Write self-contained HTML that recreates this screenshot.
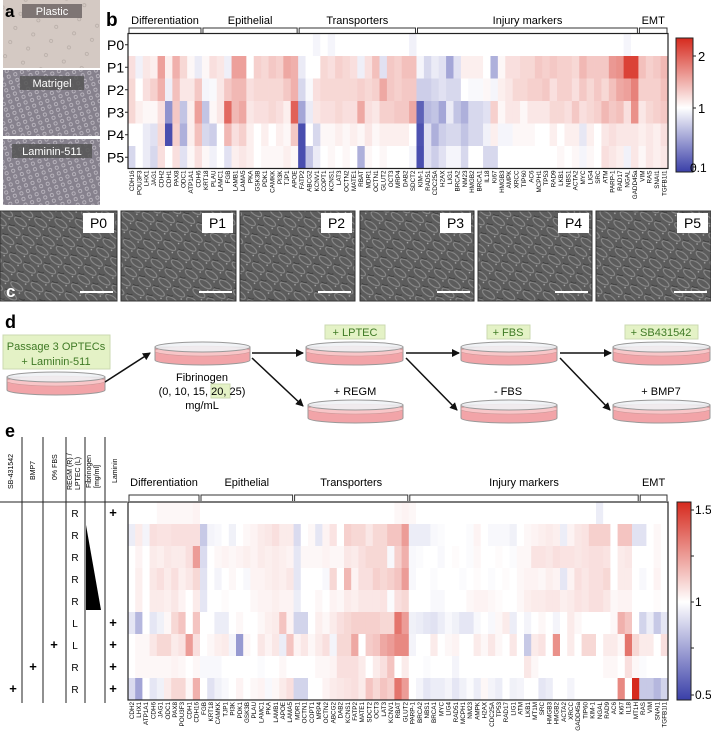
<!DOCTYPE html>
<html><head><meta charset="utf-8">
<style>
html,body{margin:0;padding:0;background:#fff;}
body{width:711px;height:741px;overflow:hidden;position:relative;font-family:"Liberation Sans",Arial,sans-serif;}
svg text{font-family:"Liberation Sans",Arial,sans-serif;}
</style></head>
<body>
<svg id="fig" width="711" height="741" viewBox="0 0 711 741" xmlns="http://www.w3.org/2000/svg">
<defs>
  <pattern id="cells" width="17" height="11" patternUnits="userSpaceOnUse" patternTransform="rotate(35)">
    <rect width="17" height="11" fill="#5c5c5c"/>
    <ellipse cx="8" cy="5" rx="7" ry="3" fill="none" stroke="#8c8c8c" stroke-width="1"/>
    <ellipse cx="0" cy="0" rx="5" ry="2.5" fill="none" stroke="#3e3e3e" stroke-width="1"/>
    <circle cx="14" cy="9" r="0.8" fill="#b0b0b0"/>
  </pattern>
  <pattern id="cells2" width="7" height="6" patternUnits="userSpaceOnUse" patternTransform="rotate(-20)">
    <rect width="7" height="6" fill="#86818d"/>
    <circle cx="3" cy="3" r="1.6" fill="none" stroke="#c4c0c8" stroke-width="0.7"/>
  </pattern>
  <pattern id="plastic" width="19" height="15" patternUnits="userSpaceOnUse" patternTransform="rotate(20)">
    <rect width="19" height="15" fill="#d4c9c3"/>
    <circle cx="5" cy="6" r="1.6" fill="none" stroke="#b0a6a0" stroke-width="0.6"/>
  </pattern>
  <linearGradient id="cbB" x1="0" y1="0" x2="0" y2="1">
    <stop offset="0" stop-color="#d62a1e"/>
    <stop offset="0.52" stop-color="#ffffff"/>
    <stop offset="1" stop-color="#3a3fa8"/>
  </linearGradient>
  <linearGradient id="cbE" x1="0" y1="0" x2="0" y2="1">
    <stop offset="0" stop-color="#d62a1e"/>
    <stop offset="0.505" stop-color="#ffffff"/>
    <stop offset="1" stop-color="#3a3fa8"/>
  </linearGradient>
  <marker id="arr" markerWidth="8" markerHeight="8" refX="7" refY="4" orient="auto" markerUnits="userSpaceOnUse">
    <path d="M0,0 L8,4 L0,8 z" fill="#111"/>
  </marker>
</defs>

<g>
  <rect x="3" y="0" width="97" height="68" fill="url(#plastic)"/>
  <rect x="3" y="70" width="97" height="66" fill="url(#cells2)"/>
  <rect x="3" y="139" width="97" height="66" fill="url(#cells2)"/>
  <rect x="22" y="4" width="60" height="14" fill="#6e6666" opacity="0.85"/>
  <text x="52" y="15" font-size="11" fill="#fff" text-anchor="middle">Plastic</text>
  <rect x="20" y="76" width="64" height="14" fill="#555" opacity="0.85"/>
  <text x="52" y="87" font-size="11" fill="#fff" text-anchor="middle">Matrigel</text>
  <rect x="12" y="144" width="80" height="14" fill="#555" opacity="0.85"/>
  <text x="52" y="155" font-size="11" fill="#fff" text-anchor="middle">Laminin-511</text>
  <text x="5" y="17" font-size="17" font-weight="bold" fill="#000">a</text>
</g>

<g>
  <text x="106" y="26" font-size="19" font-weight="bold">b</text>
  <g id="bBrackets"></g>
  <g id="bHeat"></g>
  <rect x="128" y="33.5" width="540" height="135" fill="none" stroke="#222" stroke-width="1.2"/>
  <g id="bRows"></g>
  <g id="bGenes"></g>
  <rect x="676" y="38" width="17" height="134" fill="url(#cbB)" stroke="#222" stroke-width="1"/>
  <g font-size="13">
    <line x1="693" y1="56" x2="696" y2="56" stroke="#222"/><text x="698" y="61">2</text>
    <line x1="693" y1="108" x2="696" y2="108" stroke="#222"/><text x="698" y="113">1</text>
    <line x1="693" y1="167" x2="696" y2="167" stroke="#222"/><text x="690" y="172" font-size="12">0.1</text>
  </g>
</g>

<g id="panelC"></g>

<g>
  <text x="5" y="328" font-size="18" font-weight="bold">d</text>
  <rect x="3" y="335" width="107" height="34" fill="#e4f2c6" stroke="#cbd9b0"/>
  <text x="56" y="350" font-size="11" fill="#3f7a25" text-anchor="middle">Passage 3 OPTECs</text>
  <text x="56" y="365" font-size="11" fill="#3f7a25" text-anchor="middle">+ Laminin-511</text>
  <g id="dishes"></g>
  <text x="202" y="381" font-size="11" text-anchor="middle">Fibrinogen</text>
  <rect x="211" y="384" width="19" height="14" fill="#e4f2c6" stroke="#cbd9b0"/>
  <text x="202" y="395" font-size="11" text-anchor="middle">(0, 10, 15, 20, 25)</text>
  <text x="202" y="409" font-size="11" text-anchor="middle">mg/mL</text>
  <g stroke="#111" stroke-width="1.5" marker-end="url(#arr)">
    <line x1="105" y1="382" x2="150" y2="353"/>
    <line x1="252" y1="353" x2="303" y2="353"/>
    <line x1="252" y1="358" x2="303" y2="406"/>
    <line x1="406" y1="353" x2="459" y2="353"/>
    <line x1="406" y1="358" x2="457" y2="410"/>
    <line x1="560" y1="353" x2="611" y2="353"/>
    <line x1="560" y1="358" x2="610" y2="410"/>
  </g>
  <rect x="325" y="325" width="60" height="14" fill="#e4f2c6" stroke="#cbd9b0"/>
  <text x="355" y="336" font-size="11" fill="#3f7a25" text-anchor="middle">+ LPTEC</text>
  <rect x="487" y="325" width="43" height="14" fill="#e4f2c6" stroke="#cbd9b0"/>
  <text x="508" y="336" font-size="11" fill="#3f7a25" text-anchor="middle">+ FBS</text>
  <rect x="625" y="325" width="73" height="14" fill="#e4f2c6" stroke="#cbd9b0"/>
  <text x="661" y="336" font-size="11" fill="#3f7a25" text-anchor="middle">+ SB431542</text>
  <text x="355" y="395" font-size="11" text-anchor="middle">+ REGM</text>
  <text x="508" y="395" font-size="11" text-anchor="middle">- FBS</text>
  <text x="661" y="395" font-size="11" text-anchor="middle">+ BMP7</text>
</g>

<g>
  <text x="5" y="437" font-size="18" font-weight="bold">e</text>
  <g stroke="#222" stroke-width="1">
    <line x1="0" y1="502" x2="127" y2="502"/>
    <line x1="22" y1="437" x2="22" y2="703"/>
    <line x1="43" y1="437" x2="43" y2="703"/>
    <line x1="66" y1="437" x2="66" y2="703"/>
    <line x1="85" y1="437" x2="85" y2="703"/>
    <line x1="105" y1="437" x2="105" y2="703"/>
  </g>
  <g font-size="7">
    <text transform="translate(13,489) rotate(-90)">SB-431542</text>
    <text transform="translate(35,480) rotate(-90)">BMP7</text>
    <text transform="translate(57,480) rotate(-90)">0% FBS</text>
    <text transform="translate(72,490) rotate(-90)">REGM (R) /</text>
    <text transform="translate(80,490) rotate(-90)">LPTEC (L)</text>
    <text transform="translate(91,488) rotate(-90)">Fibrinogen</text>
    <text transform="translate(99,488) rotate(-90)">[mg/ml]</text>
    <text transform="translate(117,483) rotate(-90)">Laminin</text>
  </g>
  <polygon points="86,525 101,610 86,610" fill="#000"/>
  <g id="eTable" font-size="10"></g>
  <g id="eBrackets"></g>
  <g id="eHeat"></g>
  <rect x="128" y="502" width="540" height="198" fill="none" stroke="#222" stroke-width="1.2"/>
  <g id="eGenes"></g>
  <rect x="677" y="502" width="14" height="198" fill="url(#cbE)" stroke="#222" stroke-width="1"/>
  <g font-size="12">
    <line x1="691" y1="510" x2="694" y2="510" stroke="#222"/><text x="695" y="514">1.5</text>
    <line x1="691" y1="556" x2="694" y2="556" stroke="#222"/>
    <line x1="691" y1="602" x2="694" y2="602" stroke="#222"/><text x="695" y="606">1</text>
    <line x1="691" y1="648" x2="694" y2="648" stroke="#222"/>
    <line x1="691" y1="695" x2="694" y2="695" stroke="#222"/><text x="695" y="699">0.5</text>
  </g>
</g>
</svg>

<script>
const bGenes = ["CDH16","POU3F3","LHX1","JAG1","CDH2","CDH1","PAX8","ODC1","ATP1A1","CDH6","KRT18","PLAU","LAMC1","FGB","LAMB1","LAMA5","PKA","GSK3B","PDK1","CAMKK","PI3K","TJP1","APOE","FATP2","ABCG2","KCNV1","COPT1","KCNS1","LAT3","OCTN2","MATE1","RBAT","MDR1","OCTN1","GLUT2","OCT3","MRP4","DAB2","SDCT2","KIM-1","RAD51","CDC25A","H2AX","LIG1","BRCA2","NM23","HMGB2","BRCA1","IL18","Ki67","HMGB3","AMPK","XRCC","TIP60","AC6","MCPH1","TP53","RAD9","LKB1","NBS1","ACTA2","MYC","LIG4","SRC","ATM","PARP-1","RAD17","NGAL","GADD45a","VIM","RAS","SNAI1","TGFB1I1"];
const bRowLabels = ["P0","P1","P2","P3","P4","P5"];
const bCategories = ["Differentiation","Epithelial","Transporters","Injury markers","EMT"];
const bCatStart = [0,10,23,39,69];
const bCatEnd = [10,23,39,69,73];
const bP0 = [1,1,1,1,1,1,1,1,1,1,1,1,1,1,1,1,1,1,1,1,1,1,1,1,1,0.95,1,0.95,1,1,1,1,1,1,1,1,1,1,0.93,1,1,1,1,1,1,1,1,1,1,1,1,1,1,1,1,1,1,1,1,1,1,1,1,1,1,1,1,0.95,1,1,1,1,1];
const bP1 = [1.2,0.93,1.15,1.1,1.6,1.1,1.5,1.25,1.05,0.9,1.05,1.2,1.15,0.92,1.6,1.6,1.0,1.3,1.25,1.35,1.3,1.55,1.5,0.9,1.0,1.0,1.25,1.2,1.3,1.25,1.2,0.92,1.2,1.4,0.85,1.35,1.3,1.4,1.4,0.95,0.8,0.9,0.85,0.55,0.85,1.1,1.1,1.1,1.0,0.6,1.05,1.2,1.2,1.25,1.25,1.35,1.3,1.35,1.3,1.3,1.25,1.45,1.35,1.35,1.35,1.65,1.7,2.2,2.2,1.4,1.3,1.35,1.45];
const bP2 = [1.25,1.0,1.2,1.3,1.5,0.92,1.4,1.15,1.15,1.35,0.95,0.97,1.15,1.35,1.45,1.45,1.2,1.25,1.25,1.25,1.25,1.35,1.5,0.8,0.97,1.2,1.25,1.25,1.25,1.25,1.25,1.3,1.25,1.3,1.55,1.35,1.3,1.35,1.35,0.75,0.75,0.8,0.85,0.8,0.8,1.0,0.97,0.97,1.05,0.95,1.1,1.15,1.25,1.25,1.3,1.3,1.35,1.2,1.3,1.3,1.2,1.35,1.25,1.35,1.25,1.4,1.55,1.6,1.8,1.3,1.3,1.3,1.4];
const bP3 = [1.25,1.1,1.05,1.05,1.2,0.45,1.35,0.7,1.1,1.6,0.7,1.05,1.15,1.95,1.45,1.55,1.15,1.2,1.2,1.25,1.2,1.1,2.0,0.55,0.9,1.15,1.2,1.2,1.25,1.2,1.2,1.55,1.2,1.15,1.3,1.3,1.35,1.35,1.55,0.2,0.65,0.7,0.55,0.9,0.7,0.6,0.8,0.8,0.85,1.3,1.05,1.15,1.15,1.05,1.15,1.15,1.15,1.25,1.25,1.2,1.35,1.2,1.25,1.3,1.45,1.35,1.4,1.2,1.7,1.15,1.25,1.3,1.35];
const bP4 = [1.0,1.0,0.9,0.85,1.25,0.1,1.3,0.6,1.1,1.4,0.8,0.75,1.0,1.45,1.2,1.3,1.1,1.0,1.1,1.0,1.1,1.05,1.35,0.1,1.0,0.8,1.05,1.05,1.1,1.05,1.1,1.05,1.15,1.05,1.1,1.1,1.1,1.1,1.0,0.12,0.85,0.6,0.75,0.8,0.8,0.7,0.8,0.8,0.93,1.1,0.95,0.95,1.05,1.05,1.05,1.0,1.0,1.1,1.0,1.1,1.1,0.88,1.1,1.0,1.15,1.2,1.15,1.15,1.15,1.1,1.15,1.1,1.2];
const bP5 = [0.8,1.0,0.9,0.8,1.2,1.0,1.2,0.85,1.05,1.2,1.05,0.93,1.0,0.85,1.1,1.15,1.1,1.0,1.05,1.05,1.05,1.1,1.05,0.1,0.7,0.9,1.0,1.05,1.0,1.05,1.0,0.6,1.05,1.0,1.05,1.0,1.0,1.0,0.95,0.1,0.85,0.75,0.85,0.95,0.95,0.8,1.0,1.0,0.8,0.8,1.0,1.0,1.0,1.0,1.0,1.0,1.0,1.0,1.05,1.0,1.05,0.95,1.05,1.0,1.2,1.15,1.1,0.93,1.15,1.05,1.15,1.1,1.15];
const bValues = [bP0,bP1,bP2,bP3,bP4,bP5];

const eGenes = ["CDH2","LHX1","ATP1A1","CDH6","JAG1","ODC1","PAX8","POU3F3","CDH1","CDH16","FGB","KRT18","CAMKK","TJP1","PI3K","PDK1","GSK3B","PLAU","LAMC1","PKA","LAMB1","APOE","LAMA5","MDR1","OCTN1","COPT1","MRP4","OCTN2","ABCG2","DAB2","KCNS1","FATP2","MATE1","SDCT2","OCT3","LAT3","KCNV1","RBAT","GLUT2","PARP-1","BRCA2","NBS1","BRCA1","MYC","LIG4","RAD51","MCPH1","NM23","AMPK","H2AX","CDC25A","TP53","RAD17","LIG1","ATM","LKB1","MT1M","SRC","HMGB3","HMGB2","ACTA2","XRCC","GADD45a","TIP60","KIM-1","NGAL","RAD9","AC6","Ki67","IL18","MT1H","RAS","VIM","SNAI1","TGFB1I1"];
const eCategories = ["Differentiation","Epithelial","Transporters","Injury markers","EMT"];
const eCatStart = [0,10,23,39,71];
const eCatEnd = [10,23,39,71,75];
const eMedium = ["R","R","R","R","R","L","L","R","R"];
const eLaminin = [1,0,0,0,0,1,1,1,1];
const eFbs0 = [0,0,0,0,0,0,1,0,0];
const eBmp7 = [0,0,0,0,0,0,0,1,0];
const eSb = [0,0,0,0,0,0,0,0,1];
const eR1 = [1,1,1,1,1.02,1.02,1.02,1.02,1.02,1.03,1,1,1,1,1,1,1,1,1,1,1,1,1,1,1,1,1,1,1,1,1,1,1,1,1,1,1,1.02,1.03,1.02,1,1,1,1,1,1,1,1,1,1,1,1,1,1,1,1,1,1,1,1,1,1,1,1,1,0.95,1,1,1,1,1,1,1,1,1];
const eR2 = [0.95,1.05,0.97,1.08,1.07,1.07,1.08,1.08,1.08,1.08,0.85,0.97,0.98,1.0,0.96,1.0,1.02,1.03,1.05,1.06,1.08,1.05,1.05,0.9,1.0,1.02,0.93,1.03,1.07,1.0,1.12,1.1,1.1,1.06,1.1,1.1,1.15,1.15,1.25,0.95,0.95,0.95,0.98,0.99,1.0,1.0,1.0,0.99,1.03,1.0,0.98,0.98,0.98,0.96,1.0,1.02,1.03,1.04,1.05,1.04,0.95,1.03,1.06,1.07,1.12,1.12,1.12,1.0,1.15,1.15,0.92,0.92,1.0,1.02,1.0];
const eR3 = [1.0,1.03,1.0,1.05,1.04,1.06,1.05,1.05,1.08,1.25,0.9,1.0,1.02,1.03,1.02,1.03,1.04,1.03,1.05,1.04,1.05,1.04,1.03,0.93,1.02,1.02,1.02,1.03,1.02,1.02,1.06,1.05,1.08,1.1,1.1,1.1,0.98,1.12,1.2,0.98,0.99,1.0,1.0,0.98,1.0,1.01,1.0,0.99,1.02,1.0,1.0,1.01,1.0,0.99,1.02,1.02,1.07,1.07,1.06,1.08,1.07,1.07,1.06,1.07,1.08,1.08,1.07,1.0,1.05,1.06,1.0,1.0,1.0,1.02,1.0];
const eR4 = [1.0,1.04,1.0,1.06,1.08,1.05,1.08,1.04,1.06,1.1,0.92,1.0,0.97,1.0,1.02,1.0,0.98,1.03,1.03,1.04,1.05,1.04,1.06,0.93,1.0,1.0,1.0,0.98,1.1,1.0,1.18,1.03,1.08,1.08,1.12,1.1,1.12,1.15,1.25,0.98,1.0,1.0,0.99,1.0,1.0,1.0,0.99,1.0,1.01,1.0,0.99,1.0,1.01,1.0,1.02,1.03,1.03,1.02,1.04,1.03,0.93,1.03,1.08,1.06,1.08,1.08,1.1,1.0,1.05,1.05,1.0,0.98,1.0,1.03,1.0];
const eR5 = [1.0,1.04,1.0,1.05,1.05,1.04,1.06,1.03,1.0,1.05,0.93,1.0,1.0,1.01,1.0,1.0,1.0,1.02,1.03,1.03,1.04,1.03,1.03,0.95,1.0,1.0,1.02,1.0,1.03,1.02,1.05,1.04,1.06,1.06,1.06,1.07,0.99,1.08,1.1,1.0,1.0,1.0,0.98,0.98,1.0,1.0,1.0,1.02,1.03,1.03,1.02,1.01,1.0,1.0,1.02,1.04,1.05,1.05,1.06,1.06,1.04,1.05,1.07,1.06,1.08,1.08,1.06,1.02,1.03,1.03,1.0,1.0,1.0,1.01,1.0];
const eR6 = [0.93,0.8,1.0,0.93,0.96,1.02,1.1,1.15,1.0,1.15,1.0,1.0,0.95,0.95,1.0,1.02,1.0,1.0,1.02,1.04,1.05,1.15,1.03,0.88,0.88,1.0,1.04,1.02,1.05,1.08,1.1,1.12,1.12,1.12,1.12,1.1,1.1,1.35,1.25,0.96,0.95,0.93,0.92,0.95,0.98,0.96,0.93,0.93,0.98,1.0,0.98,1.02,1.05,0.95,1.0,0.97,1.0,1.02,1.0,0.97,1.0,1.05,1.02,1.0,1.0,1.0,1.0,1.02,1.2,1.15,1.0,0.88,0.95,0.85,0.93];
const eR7 = [1.0,1.02,1.02,1.06,1.1,1.1,1.05,1.07,1.25,1.08,1.0,1.02,1.04,1.05,0.97,0.72,1.02,1.0,1.06,1.03,1.06,0.95,1.15,1.03,1.06,1.02,1.05,1.08,0.97,1.1,1.1,1.22,1.0,1.13,1.15,1.22,1.25,1.3,1.3,0.97,1.0,1.0,1.05,1.0,1.02,1.03,1.0,1.0,1.05,1.02,1.06,1.02,1.0,1.06,1.0,0.85,1.05,1.07,1.0,1.28,1.0,1.05,1.0,1.1,1.1,1.0,1.05,1.05,1.02,1.35,1.1,1.05,1.05,1.0,1.08];
const eR8 = [1.0,1.02,1.02,1.02,1.02,1.02,1.03,1.02,1.0,1.02,0.98,0.98,0.98,1.0,1.0,1.0,1.0,1.0,0.99,1.0,1.0,1.02,1.0,1.0,1.0,1.0,1.02,1.02,1.03,1.08,1.08,1.08,1.05,1.0,1.05,1.08,1.15,1.0,1.05,1.0,1.0,0.99,1.0,1.0,1.0,0.97,1.0,1.0,1.0,1.0,1.0,1.0,1.0,1.0,1.0,1.06,1.02,1.0,1.0,1.0,1.0,1.0,1.0,1.0,1.0,1.0,1.02,1.02,1.0,1.08,1.02,0.99,1.0,1.0,1.0];
const eR9 = [0.9,0.75,1.0,0.93,0.96,1.05,1.1,1.1,1.02,1.2,1.0,0.92,0.96,0.98,1.0,1.03,1.0,1.02,1.03,0.98,1.02,1.05,1.08,0.88,0.88,1.0,1.0,1.03,1.05,1.06,1.07,1.08,1.05,1.15,1.1,1.15,1.12,1.35,1.25,1.0,0.97,0.93,0.95,0.95,0.97,0.93,0.96,0.99,0.95,1.02,0.97,0.95,1.0,0.96,0.97,1.0,1.0,0.93,0.95,1.0,1.0,0.97,1.0,1.0,1.0,1.0,1.0,1.0,1.3,1.0,1.6,0.85,0.85,0.8,0.88];
const eValues = [eR1,eR2,eR3,eR4,eR5,eR6,eR7,eR8,eR9];

const NS = "http://www.w3.org/2000/svg";
function mk(tag, attrs, parent){ const e=document.createElementNS(NS,tag); for(const k in attrs) e.setAttribute(k,attrs[k]); parent.appendChild(e); return e; }
function mix(c,t){ return "rgb("+Math.round(255+(c[0]-255)*t)+","+Math.round(255+(c[1]-255)*t)+","+Math.round(255+(c[2]-255)*t)+")"; }
const RED=[214,42,30], BLUE=[58,63,168];
function colorFor(v, hi, lo){ if(v>=1){ return mix(RED, Math.min(1,(v-1)/hi)); } return mix(BLUE, Math.min(1,(1-v)/lo)); }

function heatmap(cfg){
  const nCol = cfg.genes.length, nRow = cfg.values.length;
  const cw = cfg.w/nCol, rh = cfg.h/nRow;
  const xOf = c => cfg.x + c*cw;
  const yOf = r => cfg.y + r*rh;
  const g = document.getElementById(cfg.heatId);
  cfg.values.forEach((row, r) => {
    row.forEach((v, c) => {
      const rect = mk("rect",{x:xOf(c).toFixed(2),y:yOf(r).toFixed(2),width:(cw+0.4).toFixed(2),height:(rh+0.4).toFixed(2),fill:colorFor(v,cfg.hi,cfg.lo)},g);
      
      
    });
  });
  const gg = document.getElementById(cfg.geneId);
  cfg.genes.forEach((name,c)=>{
    const t = mk("text",{transform:"translate("+(xOf(c)+cw/2+2.2).toFixed(2)+","+(cfg.y+cfg.h+2)+") rotate(-90)","font-size":cfg.gfs,"text-anchor":"end"},gg);
    t.textContent = name;
    
    
  });
  const bg = document.getElementById(cfg.brId);
  cfg.cats.forEach((name,i)=>{
    const x1 = xOf(cfg.cs[i])+1, x2 = xOf(cfg.ce[i])-1;
    const p = mk("path",{d:"M"+x1+","+(cfg.by+6)+" L"+x1+","+cfg.by+" L"+x2+","+cfg.by+" L"+x2+","+(cfg.by+6),fill:"none",stroke:"#333","stroke-width":1},bg);
    
    
    const t = mk("text",{x:((x1+x2)/2).toFixed(1),y:cfg.ty,"font-size":cfg.cfs,"text-anchor":"middle"},bg);
    t.textContent = name;
    
    
  });
  return {xOf,yOf,rh,cw};
}

const b = heatmap({genes:bGenes,values:bValues,x:128,y:33.5,w:540,h:135,hi:1.35,lo:0.976,heatId:"bHeat",geneId:"bGenes",brId:"bBrackets",cats:bCategories,cs:bCatStart,ce:bCatEnd,by:28,ty:24,cfs:11,gfs:6.3});
const bRowsG = document.getElementById("bRows");
bRowLabels.forEach((lab,r)=>{
  const t = mk("text",{x:107,y:(b.yOf(r)+b.rh/2+5).toFixed(1),"font-size":14},bRowsG);
  t.textContent = lab;
  
  
  mk("line",{x1:125,x2:128,y1:b.yOf(r)+b.rh/2,y2:b.yOf(r)+b.rh/2,stroke:"#222"},bRowsG);
});

const e = heatmap({genes:eGenes,values:eValues,x:128,y:502,w:540,h:198,hi:0.54,lo:0.53,heatId:"eHeat",geneId:"eGenes",brId:"eBrackets",cats:eCategories,cs:eCatStart,ce:eCatEnd,by:495,ty:486,cfs:11,gfs:6.3});
const tG = document.getElementById("eTable");
eMedium.forEach((m,r)=>{
  const cy = e.yOf(r)+e.rh/2+4;
  const t = mk("text",{x:75,y:cy,"text-anchor":"middle"},tG); t.textContent=m;
  
  
  const marks = [[eLaminin,113],[eFbs0,54],[eBmp7,33],[eSb,13]];
  marks.forEach(([arr,x])=>{
    if(arr[r]){
      const p = mk("text",{x:x,y:cy,"text-anchor":"middle","font-size":13,"font-weight":"bold"},tG); p.textContent="+";
      
      
    }
  });
});

const cLabels = ["P0","P1","P2","P3","P4","P5"];
const cX0 = [0,121,240,360,478,596];
const cX1 = [117,236,355,474,592,711];
const cG = document.getElementById("panelC");
cLabels.forEach((lab,i)=>{
  const r = mk("rect",{x:cX0[i],y:211,width:cX1[i]-cX0[i],height:90,fill:"url(#cells)",stroke:"#333","stroke-width":1},cG);
  
  
  mk("rect",{x:cX1[i]-34,y:213,width:31,height:20,fill:"#fff"},cG);
  const t = mk("text",{x:cX1[i]-18.5,y:228,"font-size":14,"text-anchor":"middle"},cG); t.textContent=lab;
  
  
  mk("rect",{x:cX1[i]-37,y:291,width:33,height:2,fill:"#fff"},cG);
});
const cl = mk("text",{x:6,y:297,"font-size":17,"font-weight":"bold",fill:"#fff"},cG); cl.textContent="c";



const dG = document.getElementById("dishes");
function dish(x,y,w,h){
  const g = mk("g",{},dG);
  
  
  const ry = 5;
  mk("path",{d:"M"+x+","+(y+ry)+" L"+x+","+(y+h-ry)+" A"+(w/2)+","+ry+" 0 0 0 "+(x+w)+","+(y+h-ry)+" L"+(x+w)+","+(y+ry)+" Z",fill:"#f2a4a8",stroke:"#999","stroke-width":1},g);
  mk("ellipse",{cx:x+w/2,cy:y+ry+4,rx:w/2,ry:ry,fill:"#f8c6c8",stroke:"#c99","stroke-width":0.6},g);
  mk("ellipse",{cx:x+w/2,cy:y+ry,rx:w/2,ry:ry,fill:"#eef1f4",stroke:"#999","stroke-width":1,"fill-opacity":0.85},g);
}
dish(7,372,98,23);
dish(155,342,95,23);
dish(306,342,97,23);
dish(308,400,95,23);
dish(461,342,96,23);
dish(461,400,96,23);
dish(613,342,97,23);
dish(613,400,97,23);
</script>
</body></html>
